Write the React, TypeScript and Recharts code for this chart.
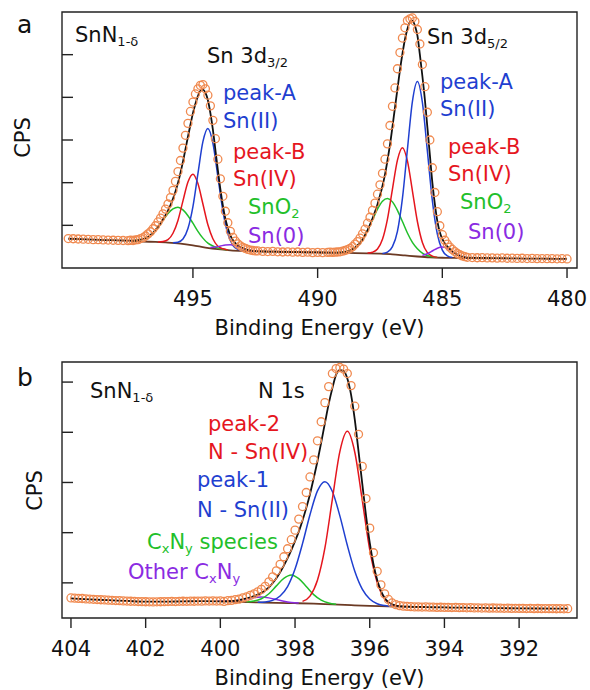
import React from "react";
import { LineChart, Line, XAxis, YAxis, ReferenceArea } from "recharts";

type Pt = [number, number]; // [binding energy (eV), counts (arb.)]

const FONT = "'DejaVu Sans', Verdana, sans-serif";
const INK = "#111";
const ORANGE = "#f08a50";
const BLUE = "#1f3fd0";
const RED = "#e5161e";
const GREEN = "#22bf2a";
const PURPLE = "#8a2be2";
const BROWN = "#6b3a24";

// ---------- Sn 3d ----------
const sn3dTicks = [495, 490, 485, 480];
const sn3dCpsTicks = [1, 2, 3, 4, 5];

const sn3dCounts: Pt[] = [
  [500.0, 0.69], [499.8, 0.685], [499.6, 0.68], [499.4, 0.675], [499.2, 0.672], [499.0, 0.665],
  [498.8, 0.665], [498.6, 0.658], [498.4, 0.655], [498.2, 0.65], [498.0, 0.648], [497.8, 0.645],
  [497.6, 0.642], [497.5, 0.65], [497.4, 0.645], [497.3, 0.66], [497.2, 0.665], [497.1, 0.69],
  [497.0, 0.71], [496.9, 0.75], [496.8, 0.8], [496.7, 0.85], [496.6, 0.92], [496.5, 0.99],
  [496.4, 1.08], [496.3, 1.17], [496.2, 1.27], [496.1, 1.38], [496.0, 1.5], [495.9, 1.65],
  [495.8, 1.82], [495.7, 2.03], [495.6, 2.26], [495.5, 2.52], [495.4, 2.81], [495.3, 3.11],
  [495.2, 3.39], [495.1, 3.67], [495.0, 3.89], [494.9, 4.08], [494.8, 4.2], [494.7, 4.28],
  [494.6, 4.3], [494.5, 4.2], [494.4, 4.05], [494.3, 3.8], [494.2, 3.46], [494.1, 3.03],
  [494.0, 2.55], [493.9, 2.09], [493.8, 1.68], [493.7, 1.33], [493.6, 1.06], [493.5, 0.86],
  [493.4, 0.72], [493.3, 0.63], [493.2, 0.565], [493.1, 0.52], [493.0, 0.485], [492.9, 0.46],
  [492.8, 0.435], [492.7, 0.42], [492.6, 0.41], [492.5, 0.4], [492.4, 0.4], [492.2, 0.39],
  [492.0, 0.385], [491.8, 0.39], [491.6, 0.38], [491.4, 0.375], [491.2, 0.38], [491.0, 0.37],
  [490.8, 0.375], [490.6, 0.365], [490.4, 0.37], [490.2, 0.36], [490.0, 0.365], [489.8, 0.36],
  [489.6, 0.365], [489.5, 0.37], [489.4, 0.365], [489.3, 0.37], [489.2, 0.375], [489.1, 0.38],
  [489.0, 0.395], [488.9, 0.41], [488.8, 0.43], [488.7, 0.46], [488.6, 0.5], [488.5, 0.56],
  [488.4, 0.62], [488.3, 0.7], [488.2, 0.8], [488.1, 0.91], [488.0, 1.05], [487.9, 1.19],
  [487.8, 1.35], [487.7, 1.52], [487.6, 1.73], [487.5, 1.95], [487.4, 2.22], [487.3, 2.55],
  [487.2, 2.91], [487.1, 3.34], [487.0, 3.79], [486.9, 4.22], [486.8, 4.67], [486.7, 5.05],
  [486.6, 5.39], [486.5, 5.63], [486.4, 5.8], [486.3, 5.84], [486.2, 5.86], [486.1, 5.78],
  [486.0, 5.59], [485.9, 5.25], [485.8, 4.77], [485.7, 4.25], [485.6, 3.65], [485.5, 3.0],
  [485.4, 2.35], [485.3, 1.77], [485.2, 1.32], [485.1, 0.99], [485.0, 0.78], [484.9, 0.65],
  [484.8, 0.56], [484.7, 0.49], [484.6, 0.435], [484.5, 0.385], [484.4, 0.34], [484.3, 0.31],
  [484.2, 0.285], [484.1, 0.265], [484.0, 0.25], [483.8, 0.245], [483.6, 0.24], [483.4, 0.242],
  [483.2, 0.235], [483.0, 0.238], [482.8, 0.232], [482.6, 0.235], [482.4, 0.228], [482.2, 0.23],
  [482.0, 0.225], [481.8, 0.228], [481.6, 0.222], [481.4, 0.225], [481.2, 0.22], [481.0, 0.222],
  [480.8, 0.218], [480.6, 0.22], [480.4, 0.215], [480.2, 0.218], [480.0, 0.212],
];

const sn3dEnvelope: Pt[] = [
  [500.0, 0.685], [499.5, 0.675], [499.0, 0.665], [498.5, 0.655], [498.0, 0.648], [497.5, 0.64],
  [497.4, 0.643], [497.3, 0.646], [497.2, 0.653], [497.1, 0.664], [497.0, 0.68], [496.9, 0.698],
  [496.8, 0.726], [496.7, 0.774], [496.6, 0.822], [496.5, 0.892], [496.4, 0.96], [496.3, 1.044],
  [496.2, 1.141], [496.1, 1.238], [496.0, 1.345], [495.9, 1.472], [495.8, 1.621], [495.7, 1.79],
  [495.6, 1.995], [495.5, 2.23], [495.4, 2.492], [495.3, 2.784], [495.2, 3.076], [495.1, 3.358],
  [495.0, 3.63], [494.9, 3.85], [494.8, 4.03], [494.7, 4.15], [494.6, 4.18], [494.5, 4.11],
  [494.4, 3.932], [494.3, 3.632], [494.2, 3.244], [494.1, 2.77], [494.0, 2.295], [493.9, 1.849],
  [493.8, 1.468], [493.7, 1.156], [493.6, 0.934], [493.5, 0.765], [493.4, 0.658], [493.3, 0.584],
  [493.2, 0.534], [493.1, 0.492], [493.0, 0.466], [492.9, 0.44], [492.8, 0.424], [492.7, 0.412],
  [492.6, 0.402], [492.5, 0.396], [492.0, 0.385], [491.5, 0.38], [491.0, 0.373], [490.5, 0.368],
  [490.0, 0.364], [489.6, 0.362], [489.5, 0.362], [489.4, 0.361], [489.3, 0.361], [489.2, 0.361],
  [489.1, 0.364], [489.0, 0.369], [488.9, 0.377], [488.8, 0.391], [488.7, 0.409], [488.6, 0.437],
  [488.5, 0.475], [488.4, 0.53], [488.3, 0.59], [488.2, 0.67], [488.1, 0.768], [488.0, 0.88],
  [487.9, 1.016], [487.8, 1.161], [487.7, 1.319], [487.6, 1.488], [487.5, 1.698], [487.4, 1.92],
  [487.3, 2.189], [487.2, 2.521], [487.1, 2.883], [487.0, 3.31], [486.9, 3.755], [486.8, 4.19],
  [486.7, 4.635], [486.6, 5.02], [486.5, 5.355], [486.4, 5.6], [486.3, 5.765], [486.2, 5.8],
  [486.1, 5.681], [486.0, 5.45], [485.9, 5.0], [485.8, 4.5], [485.7, 3.95], [485.6, 3.3],
  [485.5, 2.65], [485.4, 2.0], [485.3, 1.5], [485.2, 1.1], [485.1, 0.84], [485.0, 0.68],
  [484.9, 0.575], [484.8, 0.505], [484.7, 0.447], [484.6, 0.394], [484.5, 0.348], [484.4, 0.314],
  [484.3, 0.287], [484.2, 0.266], [484.1, 0.251], [484.0, 0.241], [483.5, 0.236], [483.0, 0.232],
  [482.5, 0.228], [482.0, 0.224], [481.5, 0.22], [481.0, 0.218], [480.5, 0.215], [480.0, 0.212],
];

const sn3dBackground: Pt[] = [
  [497.5, 0.635], [497.0, 0.62], [496.5, 0.61], [496.0, 0.595], [495.5, 0.57], [495.0, 0.53],
  [494.5, 0.48], [494.0, 0.44], [493.5, 0.415], [493.0, 0.4], [492.5, 0.39], [492.0, 0.385],
  [491.0, 0.375], [490.0, 0.365], [489.0, 0.355], [488.5, 0.35], [488.0, 0.345], [487.5, 0.335],
  [487.0, 0.32], [486.5, 0.295], [486.0, 0.27], [485.5, 0.25], [485.0, 0.24], [484.5, 0.235],
  [484.0, 0.23], [483.0, 0.225],
];

// Sn 3d3/2 components
const sn32PeakA: Pt[] = [
  [495.8, 0.59], [495.6, 0.605], [495.4, 0.68], [495.2, 0.926], [495.0, 1.44], [494.8, 2.21],
  [494.6, 2.96], [494.4, 3.272], [494.2, 2.926], [494.0, 2.14], [493.8, 1.34], [493.6, 0.8],
  [493.4, 0.532], [493.2, 0.436], [493.0, 0.406],
];
const sn32PeakB: Pt[] = [
  [496.4, 0.61], [496.2, 0.62], [496.0, 0.665], [495.8, 0.815], [495.6, 1.115], [495.4, 1.572],
  [495.2, 2.016], [495.0, 2.2], [494.8, 1.98], [494.6, 1.5], [494.4, 1.012], [494.2, 0.686],
  [494.0, 0.51], [493.8, 0.45], [493.6, 0.423],
];
const sn32SnO2: Pt[] = [
  [497.4, 0.643], [497.2, 0.653], [497.0, 0.68], [496.8, 0.726], [496.6, 0.822], [496.4, 0.957],
  [496.2, 1.121], [496.0, 1.275], [495.8, 1.385], [495.6, 1.425], [495.4, 1.362], [495.2, 1.226],
  [495.0, 1.05], [494.8, 0.86], [494.6, 0.7], [494.4, 0.582], [494.2, 0.516], [494.0, 0.465],
  [493.8, 0.44], [493.6, 0.423],
];
const sn32Metal: Pt[] = [
  [494.3, 0.482], [494.1, 0.49], [493.9, 0.514], [493.7, 0.54], [493.5, 0.545], [493.3, 0.524],
  [493.1, 0.482], [492.9, 0.44], [492.7, 0.412], [492.5, 0.396],
];

// Sn 3d5/2 components
const sn52PeakA: Pt[] = [
  [487.4, 0.34], [487.2, 0.371], [487.0, 0.5], [486.8, 0.86], [486.6, 1.63], [486.4, 2.78],
  [486.2, 3.9], [486.0, 4.37], [485.8, 3.882], [485.6, 2.744], [485.4, 1.578], [485.2, 0.794],
  [485.0, 0.42], [484.8, 0.283], [484.6, 0.244],
];
const sn52PeakB: Pt[] = [
  [488.0, 0.35], [487.8, 0.37], [487.6, 0.444], [487.4, 0.672], [487.2, 1.146], [487.0, 1.85],
  [486.8, 2.53], [486.6, 2.82], [486.4, 2.51], [486.2, 1.81], [486.0, 1.09], [485.8, 0.6],
  [485.6, 0.361], [485.4, 0.278], [485.2, 0.249],
];
const sn52SnO2: Pt[] = [
  [489.2, 0.361], [489.0, 0.369], [488.8, 0.391], [488.6, 0.437], [488.4, 0.529], [488.2, 0.667],
  [488.0, 0.875], [487.8, 1.131], [487.6, 1.377], [487.4, 1.562], [487.2, 1.626], [487.0, 1.55],
  [486.8, 1.35], [486.6, 1.09], [486.4, 0.82], [486.2, 0.6], [486.0, 0.45], [485.8, 0.348],
  [485.6, 0.292], [485.4, 0.262], [485.2, 0.249],
];
const sn52Metal: Pt[] = [
  [485.8, 0.296], [485.6, 0.334], [485.4, 0.398], [485.2, 0.464], [485.0, 0.49], [484.8, 0.458],
  [484.6, 0.386], [484.4, 0.314], [484.2, 0.266], [484.0, 0.241],
];

// ---------- N 1s ----------
const n1sTicks = [404, 402, 400, 398, 396, 394, 392];
const n1sCpsTicks = [1, 2, 3, 4, 5];

const n1sCounts: Pt[] = [
  [404.0, 0.7], [403.9, 0.695], [403.8, 0.69], [403.7, 0.688], [403.6, 0.68], [403.5, 0.678],
  [403.4, 0.672], [403.3, 0.668], [403.2, 0.664], [403.1, 0.66], [403.0, 0.656], [402.9, 0.652],
  [402.8, 0.648], [402.7, 0.645], [402.6, 0.64], [402.5, 0.638], [402.4, 0.634], [402.3, 0.632],
  [402.2, 0.628], [402.1, 0.626], [402.0, 0.624], [401.9, 0.622], [401.8, 0.62], [401.7, 0.622],
  [401.6, 0.624], [401.5, 0.626], [401.4, 0.628], [401.3, 0.63], [401.2, 0.628], [401.1, 0.632],
  [401.0, 0.634], [400.9, 0.632], [400.8, 0.636], [400.7, 0.634], [400.6, 0.638], [400.5, 0.636],
  [400.4, 0.64], [400.3, 0.637], [400.2, 0.641], [400.1, 0.638], [400.0, 0.64], [399.9, 0.63],
  [399.8, 0.645], [399.7, 0.65], [399.6, 0.665], [399.5, 0.675], [399.4, 0.7], [399.3, 0.72],
  [399.2, 0.75], [399.1, 0.78], [399.0, 0.82], [398.9, 0.87], [398.8, 0.93], [398.7, 1.02],
  [398.6, 1.12], [398.5, 1.24], [398.4, 1.37], [398.3, 1.52], [398.2, 1.68], [398.1, 1.86],
  [398.0, 2.05], [397.9, 2.27], [397.8, 2.52], [397.7, 2.8], [397.6, 3.11], [397.5, 3.45],
  [397.4, 3.83], [397.3, 4.21], [397.2, 4.59], [397.1, 4.91], [397.0, 5.17], [396.9, 5.27],
  [396.8, 5.29], [396.7, 5.26], [396.6, 5.17], [396.5, 4.93], [396.4, 4.52], [396.3, 3.96],
  [396.2, 3.32], [396.1, 2.68], [396.0, 2.09], [395.9, 1.6], [395.8, 1.23], [395.7, 0.96],
  [395.6, 0.78], [395.5, 0.67], [395.4, 0.6], [395.3, 0.565], [395.2, 0.545], [395.1, 0.535],
  [395.0, 0.53], [394.9, 0.525], [394.8, 0.52], [394.7, 0.522], [394.6, 0.518], [394.5, 0.52],
  [394.4, 0.515], [394.3, 0.517], [394.2, 0.512], [394.1, 0.514], [394.0, 0.51], [393.9, 0.512],
  [393.8, 0.508], [393.7, 0.51], [393.6, 0.506], [393.5, 0.508], [393.4, 0.503], [393.3, 0.505],
  [393.2, 0.5], [393.1, 0.503], [393.0, 0.498], [392.9, 0.5], [392.8, 0.497], [392.7, 0.499],
  [392.6, 0.495], [392.5, 0.497], [392.4, 0.493], [392.3, 0.495], [392.2, 0.491], [392.1, 0.493],
  [392.0, 0.49], [391.9, 0.492], [391.8, 0.488], [391.7, 0.49], [391.6, 0.487], [391.5, 0.489],
  [391.4, 0.486], [391.3, 0.488], [391.2, 0.485], [391.1, 0.487], [391.0, 0.484], [390.9, 0.486],
  [390.8, 0.483], [390.7, 0.485],
];

const n1sEnvelope: Pt[] = [
  [404.0, 0.69], [403.5, 0.67], [403.0, 0.655], [402.5, 0.64], [402.0, 0.625], [401.5, 0.625],
  [401.0, 0.632], [400.5, 0.635], [400.0, 0.633], [399.9, 0.633], [399.8, 0.635], [399.7, 0.639],
  [399.6, 0.647], [399.5, 0.657], [399.4, 0.671], [399.3, 0.689], [399.2, 0.71], [399.1, 0.736],
  [399.0, 0.766], [398.9, 0.801], [398.8, 0.848], [398.7, 0.908], [398.6, 0.994], [398.5, 1.09],
  [398.4, 1.209], [398.3, 1.344], [398.2, 1.492], [398.1, 1.654], [398.0, 1.831], [397.9, 2.02],
  [397.8, 2.244], [397.7, 2.489], [397.6, 2.767], [397.5, 3.085], [397.4, 3.422], [397.3, 3.795],
  [397.2, 4.181], [397.1, 4.56], [397.0, 4.88], [396.9, 5.15], [396.8, 5.24], [396.7, 5.22],
  [396.6, 5.07], [396.5, 4.75], [396.4, 4.25], [396.3, 3.62], [396.2, 2.976], [396.1, 2.343],
  [396.0, 1.8], [395.9, 1.371], [395.8, 1.055], [395.7, 0.841], [395.6, 0.697], [395.5, 0.617],
  [395.4, 0.573], [395.3, 0.545], [395.2, 0.534], [395.1, 0.529], [395.0, 0.525], [394.5, 0.518],
  [394.0, 0.51], [393.5, 0.506], [393.0, 0.5], [392.5, 0.496], [392.0, 0.492], [391.5, 0.489],
  [391.0, 0.486], [390.7, 0.485],
];

const n1sBackground: Pt[] = [
  [400.0, 0.63], [399.5, 0.62], [399.0, 0.61], [398.5, 0.6], [398.0, 0.595], [397.5, 0.585],
  [397.0, 0.57], [396.5, 0.555], [396.0, 0.54], [395.5, 0.53], [395.0, 0.525], [394.5, 0.52],
];

const n1sPeak2: Pt[] = [
  [397.8, 0.631], [397.6, 0.737], [397.4, 1.052], [397.2, 1.696], [397.0, 2.67], [396.8, 3.614],
  [396.6, 4.018], [396.4, 3.602], [396.2, 2.646], [396.0, 1.66], [395.8, 1.006], [395.6, 0.682],
  [395.4, 0.569], [395.2, 0.534],
];
const n1sPeak1: Pt[] = [
  [399.0, 0.614], [398.8, 0.621], [398.6, 0.651], [398.4, 0.739], [398.2, 0.927], [398.0, 1.275],
  [397.8, 1.781], [397.6, 2.357], [397.4, 2.832], [397.2, 3.016], [397.0, 2.82], [396.8, 2.334],
  [396.6, 1.748], [396.4, 1.232], [396.2, 0.876], [396.0, 0.68], [395.8, 0.585], [395.6, 0.547],
  [395.4, 0.533],
];
const n1sCxNy: Pt[] = [
  [399.3, 0.622], [399.1, 0.637], [398.9, 0.684], [398.7, 0.784], [398.5, 0.94], [398.3, 1.088],
  [398.1, 1.156], [397.9, 1.083], [397.7, 0.929], [397.5, 0.765], [397.3, 0.655], [397.1, 0.598],
  [396.9, 0.573],
];
const n1sOtherCxNy: Pt[] = [
  [400.1, 0.633], [399.9, 0.633], [399.7, 0.639], [399.5, 0.656], [399.3, 0.683], [399.1, 0.709],
  [398.9, 0.718], [398.7, 0.701], [398.5, 0.667], [398.3, 0.634], [398.1, 0.611], [397.9, 0.598],
];

const rows = (pts: Pt[]) => pts.map(([e, v]) => ({ e, v }));

interface Component {
  pts: Pt[];
  color: string;
}

interface SpectrumProps {
  counts: Pt[];
  envelope: Pt[];
  background: Pt[];
  components: Component[];
  xDomain: [number, number];
  xTicks: number[];
  yDomain: [number, number];
  yTicks: number[];
  marginTop: number;
  axisHeight: number;
  labelOffset: number;
}

const Spectrum = ({
  counts, envelope, background, components, xDomain, xTicks, yDomain, yTicks,
  marginTop, axisHeight, labelOffset,
}: SpectrumProps) => (
  <LineChart width={590} height={345} margin={{ top: marginTop, right: 13, bottom: 0, left: 61 }}>
    <XAxis
      type="number"
      dataKey="e"
      domain={xDomain}
      ticks={xTicks}
      reversed
      allowDataOverflow
      height={axisHeight}
      tickSize={10}
      tickMargin={13}
      axisLine={false}
      tickLine={{ stroke: "#222", strokeWidth: 1.4 }}
      tick={{ fontSize: 21, fontFamily: FONT, fill: INK }}
      label={{
        value: "Binding Energy (eV)",
        position: "insideBottom",
        offset: labelOffset,
        fontSize: 21,
        fontFamily: FONT,
        fill: INK,
      }}
    />
    <YAxis
      type="number"
      domain={yDomain}
      ticks={yTicks}
      allowDataOverflow
      width={1}
      tickSize={-11}
      tickFormatter={() => ""}
      axisLine={false}
      tickLine={{ stroke: "#222", strokeWidth: 1.4 }}
    />
    <ReferenceArea
      x1={xDomain[0]}
      x2={xDomain[1]}
      y1={yDomain[0]}
      y2={yDomain[1]}
      fill="none"
      stroke="#222"
      strokeWidth={1.4}
    />
    <Line
      data={rows(counts)}
      dataKey="v"
      stroke="none"
      dot={{ r: 4, fill: "none", stroke: ORANGE, strokeWidth: 1.3 }}
      activeDot={false}
      isAnimationActive={false}
    />
    <Line
      data={rows(background)}
      dataKey="v"
      type="monotone"
      stroke={BROWN}
      strokeWidth={1.8}
      dot={false}
      activeDot={false}
      isAnimationActive={false}
    />
    {components.map((c, i) => (
      <Line
        key={i}
        data={rows(c.pts)}
        dataKey="v"
        type="monotone"
        stroke={c.color}
        strokeWidth={1.5}
        dot={false}
        activeDot={false}
        isAnimationActive={false}
      />
    ))}
    <Line
      data={rows(envelope)}
      dataKey="v"
      type="monotone"
      stroke={INK}
      strokeWidth={1.8}
      dot={false}
      activeDot={false}
      isAnimationActive={false}
    />
  </LineChart>
);

// text placed by its left edge and baseline
const Note = ({ x, y, color = INK, size = 21, children }: {
  x: number; y: number; color?: string; size?: number; children: React.ReactNode;
}) => (
  <div
    style={{
      position: "absolute",
      left: x,
      top: y - size * 0.846,
      fontFamily: FONT,
      fontSize: size,
      lineHeight: `${size}px`,
      color,
      whiteSpace: "nowrap",
    }}
  >
    {children}
  </div>
);

const Sub = ({ children }: { children: React.ReactNode }) => (
  <span style={{ fontSize: "0.62em", position: "relative", top: "0.3em" }}>{children}</span>
);

const Cps = ({ cx, cy }: { cx: number; cy: number }) => (
  <div
    style={{
      position: "absolute",
      left: cx - 40,
      top: cy - 10.5,
      width: 80,
      lineHeight: "21px",
      textAlign: "center",
      fontFamily: FONT,
      fontSize: 21,
      color: INK,
      transform: "rotate(-90deg)",
    }}
  >
    CPS
  </div>
);

export default function App() {
  return (
    <div style={{ position: "relative", width: 590, height: 690, background: "#fff" }}>
      <style>{"body{margin:0}"}</style>
      <div style={{ position: "absolute", left: 0, top: 0 }}>
        <Spectrum
          counts={sn3dCounts}
          envelope={sn3dEnvelope}
          background={sn3dBackground}
          components={[
            { pts: sn32SnO2, color: GREEN },
            { pts: sn32PeakB, color: RED },
            { pts: sn32PeakA, color: BLUE },
            { pts: sn32Metal, color: PURPLE },
            { pts: sn52SnO2, color: GREEN },
            { pts: sn52PeakB, color: RED },
            { pts: sn52PeakA, color: BLUE },
            { pts: sn52Metal, color: PURPLE },
          ]}
          xDomain={[479.6, 500.25]}
          xTicks={sn3dTicks}
          yDomain={[0, 6]}
          yTicks={sn3dCpsTicks}
          marginTop={12}
          axisHeight={77}
          labelOffset={10}
        />
      </div>
      <div style={{ position: "absolute", left: 0, top: 345 }}>
        <Spectrum
          counts={n1sCounts}
          envelope={n1sEnvelope}
          background={n1sBackground}
          components={[
            { pts: n1sOtherCxNy, color: PURPLE },
            { pts: n1sCxNy, color: GREEN },
            { pts: n1sPeak1, color: BLUE },
            { pts: n1sPeak2, color: RED },
          ]}
          xDomain={[390.45, 404.24]}
          xTicks={n1sTicks}
          yDomain={[0.3, 5.4]}
          yTicks={n1sCpsTicks}
          marginTop={17}
          axisHeight={72}
          labelOffset={5}
        />
      </div>

      {/* panel a */}
      <Note x={17} y={33} size={25}>a</Note>
      <Cps cx={22.5} cy={137} />
      <Note x={75} y={43}>SnN<Sub>1-δ</Sub></Note>
      <Note x={207} y={64}>Sn 3d<Sub>3/2</Sub></Note>
      <Note x={223} y={101} color={BLUE}>peak-A</Note>
      <Note x={223} y={129} color={BLUE}>Sn(II)</Note>
      <Note x={233} y={160} color={RED}>peak-B</Note>
      <Note x={233} y={187} color={RED}>Sn(IV)</Note>
      <Note x={248} y={215} color={GREEN}>SnO<Sub>2</Sub></Note>
      <Note x={248} y={244} color={PURPLE}>Sn(0)</Note>
      <Note x={427} y={45}>Sn 3d<Sub>5/2</Sub></Note>
      <Note x={440} y={90} color={BLUE}>peak-A</Note>
      <Note x={440} y={117} color={BLUE}>Sn(II)</Note>
      <Note x={448} y={155} color={RED}>peak-B</Note>
      <Note x={448} y={182} color={RED}>Sn(IV)</Note>
      <Note x={460} y={210} color={GREEN}>SnO<Sub>2</Sub></Note>
      <Note x={468} y={240} color={PURPLE}>Sn(0)</Note>

      {/* panel b */}
      <Note x={17} y={386} size={25}>b</Note>
      <Cps cx={35} cy={490} />
      <Note x={90} y={399}>SnN<Sub>1-δ</Sub></Note>
      <Note x={258} y={399}>N 1s</Note>
      <Note x={208} y={432} color={RED}>peak-2</Note>
      <Note x={208} y={460} color={RED}>N - Sn(IV)</Note>
      <Note x={197} y={488} color={BLUE}>peak-1</Note>
      <Note x={197} y={518} color={BLUE}>N - Sn(II)</Note>
      <Note x={147} y={550} color={GREEN}>C<Sub>x</Sub>N<Sub>y</Sub> species</Note>
      <Note x={128} y={580} color={PURPLE}>Other C<Sub>x</Sub>N<Sub>y</Sub></Note>
    </div>
  );
}
